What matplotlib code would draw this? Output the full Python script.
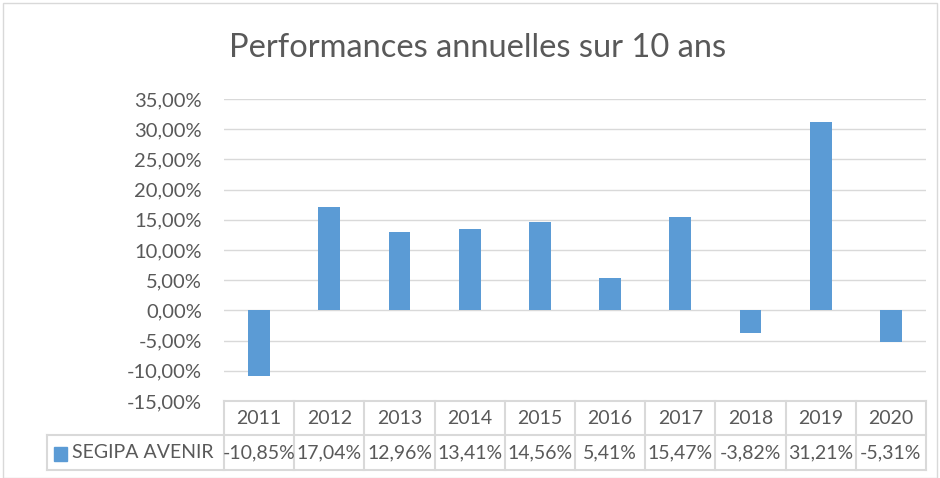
import matplotlib.pyplot as plt
import matplotlib.transforms as mtransforms
from matplotlib.patches import Rectangle

years = ["2011", "2012", "2013", "2014", "2015", "2016", "2017", "2018", "2019", "2020"]
perf = [-10.85, 17.04, 12.96, 13.41, 14.56, 5.41, 15.47, -3.82, 31.21, -5.31]
series_name = "SEGIPA AVENIR"
yticks = [-15, -10, -5, 0, 5, 10, 15, 20, 25, 30, 35]

plt.rcParams['font.family'] = ['Lato', 'DejaVu Sans']
grey = '#595959'
line = '#D9D9D9'
blue = '#5B9BD5'

W, H = 940, 478
fig = plt.figure(figsize=(W / 100, H / 100), dpi=100)

def fx(px):
    return px / W

def fy(py):
    return 1 - py / H

# chart frame
fig.patches.append(Rectangle((fx(3), fy(478)), fx(934), fy(3) - fy(478), transform=fig.transFigure,
                             fill=False, edgecolor=line, linewidth=1))

ax = fig.add_axes([fx(224), fy(401), fx(926) - fx(224), fy(99) - fy(401)])
x = list(range(len(years)))
ax.bar(x, perf, width=0.31, color=blue, zorder=3)
ax.set_xlim(-0.5, len(years) - 0.5)
ax.set_ylim(-15, 35)
ax.set_yticks(yticks)
ax.set_yticklabels([f"{v:.2f}%".replace('.', ',') for v in yticks], fontsize=14.5, color=grey)
ax.set_xticks([])
ax.tick_params(axis='y', length=0, pad=16)
ax.grid(axis='y', color=line, linewidth=1, zorder=0)
for s in ax.spines.values():
    s.set_visible(False)

fig.text(fx(478), fy(48), "Performances annuelles sur 10 ans", ha='center', va='center',
         fontsize=23.5, color=grey)

# data table under the plot
tr = mtransforms.blended_transform_factory(ax.transData, fig.transFigure)
y_top, y_mid, y_bot = fy(401), fy(435), fy(470)
key_left = -0.5 - (224 - 47) / 70.2
kw = dict(color=line, linewidth=1.5, clip_on=False, transform=tr)
ax.plot([-0.5, len(years) - 0.5], [y_top, y_top], **kw)
ax.plot([key_left, len(years) - 0.5], [y_mid, y_mid], **kw)
ax.plot([key_left, len(years) - 0.5], [y_bot, y_bot], **kw)
ax.plot([key_left, key_left], [y_mid, y_bot], **kw)
for i in range(len(years) + 1):
    ax.plot([i - 0.5, i - 0.5], [y_top, y_bot], **kw)

for i, (yr, v) in enumerate(zip(years, perf)):
    ax.text(i, (y_top + y_mid) / 2, yr, ha='center', va='center', fontsize=14,
            color=grey, transform=tr)
    ax.text(i, (y_mid + y_bot) / 2, f"{v:.2f}%".replace('.', ','), ha='center', va='center',
            fontsize=14, color=grey, transform=tr)

fig.patches.append(Rectangle((fx(54), fy(461)), fx(13), fy(447) - fy(461), transform=fig.transFigure,
                             color=blue))
fig.text(fx(72), (y_mid + y_bot) / 2, series_name, ha='left', va='center', fontsize=14, color=grey)

fig.savefig("out.png", dpi=100)
